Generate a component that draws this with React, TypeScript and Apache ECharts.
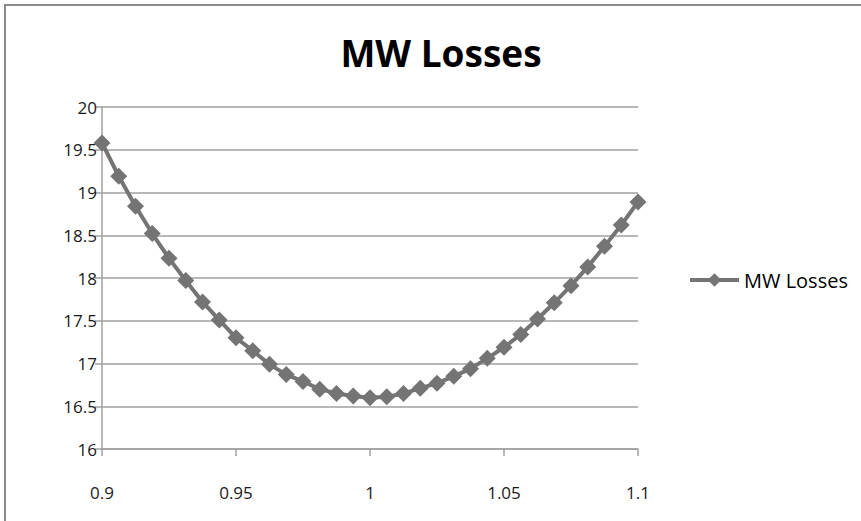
import React, { useEffect, useRef } from "react";
import * as echarts from "echarts";

const titleText = "MW Losses";
const seriesName = "MW Losses";
const xValues = [
  0.9, 0.90625, 0.9125, 0.91875, 0.925, 0.93125, 0.9375, 0.94375, 0.95,
  0.95625, 0.9625, 0.96875, 0.975, 0.98125, 0.9875, 0.99375, 1.0, 1.00625,
  1.0125, 1.01875, 1.025, 1.03125, 1.0375, 1.04375, 1.05, 1.05625, 1.0625,
  1.06875, 1.075, 1.08125, 1.0875, 1.09375, 1.1,
];
const lossValues = [
  19.58, 19.19, 18.84, 18.52, 18.23, 17.97, 17.72, 17.51, 17.3, 17.15, 16.99,
  16.87, 16.79, 16.7, 16.65, 16.62, 16.6, 16.61, 16.65, 16.71, 16.77, 16.85,
  16.94, 17.06, 17.19, 17.34, 17.52, 17.71, 17.91, 18.13, 18.37, 18.62, 18.89,
];

const FONT = "Open Sans";
const GRAY = "#747474";

export default function App() {
  const ref = useRef<HTMLDivElement>(null);
  useEffect(() => {
    if (!ref.current) return;
    const chart = echarts.init(ref.current, undefined, { renderer: "svg" });
    const data = xValues.map((x, i) => [x, lossValues[i]]);
    chart.setOption({
      animation: false,
      backgroundColor: "#ffffff",
      title: {
        text: titleText,
        left: 436,
        textAlign: "center",
        top: 29,
        textStyle: {
          fontFamily: FONT,
          fontWeight: "bold",
          fontSize: 37,
          color: "#000000",
        },
      },
      graphic: [
        {
          type: "rect",
          shape: { x: 5, y: 5, width: 900, height: 560 },
          style: { fill: "none", stroke: "#8a8a8a", lineWidth: 2 },
          silent: true,
        },
      ],
      legend: {
        orient: "vertical",
        left: 688,
        top: 270,
        padding: 0,
        itemWidth: 49,
        itemHeight: 17,
        itemGap: 6,
        lineStyle: { width: 4, color: GRAY },
        itemStyle: { color: GRAY },
        textStyle: { fontFamily: FONT, fontSize: 20, color: "#000000" },
        data: [seriesName],
      },
      grid: { left: 102, top: 107, width: 536, height: 342, containLabel: false },
      xAxis: {
        type: "value",
        min: 0.9,
        max: 1.1,
        interval: 0.05,
        axisLine: { show: true, lineStyle: { color: "#a0a0a0", width: 1.5 } },
        axisTick: { show: true, length: 7, lineStyle: { color: "#a0a0a0", width: 1.5 } },
        splitLine: { show: false },
        axisLabel: {
          margin: 35,
          fontFamily: FONT,
          fontSize: 17,
          color: "#1a1a1a",
        },
      },
      yAxis: {
        type: "value",
        min: 16,
        max: 20,
        interval: 0.5,
        axisLine: { show: true, lineStyle: { color: "#a0a0a0", width: 1.5 } },
        axisTick: { show: true, length: 7, lineStyle: { color: "#a0a0a0", width: 1.5 } },
        splitLine: { show: true, lineStyle: { color: "#a0a0a0", width: 1.5 } },
        axisLabel: {
          margin: 5,
          fontFamily: FONT,
          fontSize: 17,
          color: "#1a1a1a",
        },
      },
      series: [
        {
          name: seriesName,
          type: "line",
          data,
          symbol: "diamond",
          symbolSize: 17,
          lineStyle: { color: GRAY, width: 4 },
          itemStyle: { color: GRAY },
        },
      ],
    });
    return () => chart.dispose();
  }, []);
  return (
    <div
      ref={ref}
      style={{ position: "fixed", left: 0, top: 0, width: 861, height: 521 }}
    />
  );
}
